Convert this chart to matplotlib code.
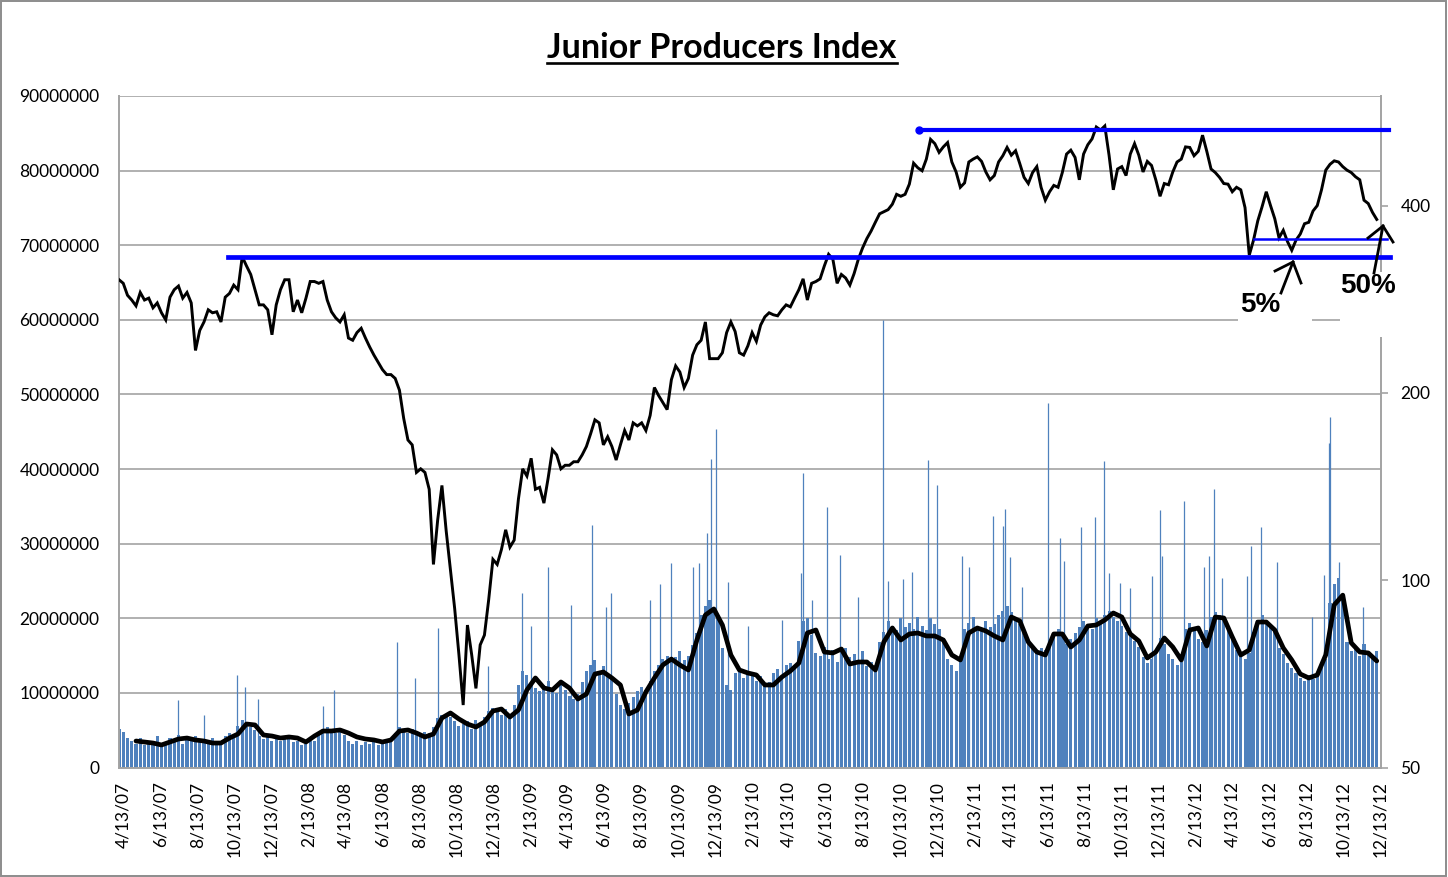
import matplotlib
matplotlib.use("Agg")
import matplotlib.pyplot as plt
import matplotlib.ticker as mticker
import numpy as np
import pandas as pd
from matplotlib.lines import Line2D
from matplotlib.patches import Rectangle

# ---------------- data ----------------
price_dates = pd.date_range("2007-04-06", periods=297, freq="7D")
price = [
    304, 300, 287, 282, 276, 290, 282, 284, 274, 279,
    269, 262, 285, 293, 297, 284, 290, 279, 234, 252,
    260, 272, 269, 270, 260, 285, 289, 298, 293, 331,
    320, 310, 293, 277, 277, 272, 248, 277, 293, 304,
    304, 270, 282, 269, 284, 302, 302, 300, 302, 282,
    270, 264, 260, 267, 245, 243, 250, 254, 245, 237,
    230, 224, 218, 214, 214, 211, 202, 182, 168, 165,
    149, 151, 149, 140, 106, 125, 142, 120, 104, 90,
    75.9, 63, 84.7, 75.9, 67, 78.7, 81.6, 93, 108, 106,
    112, 120.5, 113, 116, 135, 151, 147, 157, 140, 141,
    133, 146, 162, 159, 151, 153, 153, 155, 155, 159,
    164, 172, 181, 179, 165, 170, 164, 156, 165, 174,
    168, 179, 177, 179, 174, 184, 204, 198, 193, 188,
    210, 221, 216, 204, 211, 230, 239, 243, 260, 227,
    227, 227, 232, 250, 260, 251, 232, 230, 238, 250,
    242, 257, 265, 269, 267, 266, 272, 277, 275, 284,
    293, 305, 282, 300, 302, 305, 320, 334, 328, 300,
    310, 306, 298, 311, 328, 342, 354, 364, 376, 388,
    391, 394, 402, 417, 414, 417, 433, 468, 460, 455,
    475, 511, 503, 487, 497, 505, 470, 453, 428, 435,
    470, 475, 479, 471, 453, 440, 447, 470, 481, 496,
    482, 490, 467, 444, 434, 452, 462, 428, 408, 421,
    431, 428, 452, 484, 491, 478, 440, 484, 501, 512,
    535, 529, 537, 482, 424, 458, 462, 447, 484, 503,
    482, 453, 471, 464, 440, 414, 434, 432, 453, 470,
    475, 497, 496, 481, 489, 519, 489, 458, 452, 444,
    434, 433, 421, 428, 424, 397, 333, 352, 378, 398,
    421, 400, 381, 355, 365, 350, 339, 352, 360, 374,
    376, 392, 400, 424, 456, 466, 472, 470, 462, 456,
    452, 445, 440, 408, 403, 390, 380,
]

volume_dates = price_dates
volume_millions = [
    5.2, 4.8, 4.0, 3.6,
    3.2, 4.0, 3.0, 3.6, 3.3, 4.2, 3.0,
    3.4, 4.0, 3.5, 4.4, 3.2, 4.0, 3.6, 4.2, 3.4, 3.8,
    3.5, 4.0, 3.6, 3.4, 4.2, 4.6, 4.0,
    5.6, 6.3, 6.0, 5.4, 5.0,
    4.2, 3.8, 4.4, 3.6, 4.0, 3.5, 4.2, 3.8, 3.4, 3.6,
    3.0, 3.2, 3.5, 3.6, 4.4, 5.0,
    5.4, 5.0, 4.6, 5.2, 4.4,
    3.5, 3.2, 3.6, 3.0, 3.4, 3.2, 3.6, 3.0, 3.2, 3.4, 3.8,
    4.6, 5.4, 5.0, 4.6, 5.2, 4.4, 4.2, 4.8,
    4.6, 5.4, 6.6, 7.0, 7.2,
    6.8, 6.2, 5.6,
    5.8, 6.2, 5.2, 6.4, 5.6,
    6.8, 7.6, 8.0, 7.4, 7.0, 7.8, 6.6,
    8.4, 11.0, 13.0, 12.4,
    11.5, 10.6, 10.2, 11.0, 11.6, 10.4, 10.0, 11.2, 10.4,
    9.6, 9.2, 9.8,
    11.5, 13.0, 13.8, 14.4, 12.8, 13.6, 12.6, 12.0,
    9.8, 8.4, 7.8, 8.6, 9.4,
    10.2, 10.8, 10.4, 11.6, 13.0,
    13.8, 14.6, 15.0, 14.2, 14.8, 15.6, 14.4, 15.0, 16.4,
    18.0, 20.4, 21.6, 22.4, 21.0, 20.0,
    16.0, 11.0, 10.4,
    12.6, 13.4, 12.0, 13.0, 12.4, 11.6, 12.2, 11.0, 11.4, 12.6, 13.2, 12.0, 13.8, 14.0, 13.6,
    17.0, 19.6, 20.0, 17.8,
    15.4, 15.0, 16.2, 14.6, 15.8, 14.2, 15.6, 16.0, 14.8, 15.2, 14.4, 15.6, 13.6, 14.2, 13.8, 16.8,
    18.2, 19.6, 19.0, 18.4, 20.0, 18.8, 19.4, 18.6, 20.2, 19.0, 18.4, 20.0, 19.2, 18.6, 17.4,
    14.6, 13.8, 13.0, 14.4,
    18.6, 19.4, 20.2, 19.0, 18.4, 19.6, 18.8, 19.2, 20.4, 21.0, 21.6, 20.8, 20.0, 19.2, 17.6, 16.8,
    16.4, 15.6, 16.0, 15.8, 16.8, 17.6,
    18.6, 17.8, 16.6, 17.2, 18.0, 18.8, 19.6, 19.0, 18.6, 20.0, 19.4, 20.4, 21.0, 20.2, 19.6, 19.0, 18.2, 17.6, 17.0,
    16.2, 14.8, 14.0, 14.6, 15.8, 17.4, 16.6, 15.2,
    14.6, 13.8, 14.2,
    18.6, 19.4, 18.8, 17.2, 16.8, 18.4, 20.2, 20.8, 20.4, 19.6, 18.6, 17.8,
    15.8, 15.0, 14.6, 15.4,
    18.2, 19.8, 20.4, 19.6, 19.0, 18.4,
    16.0, 15.2, 14.0, 13.4, 12.6, 12.0, 11.6, 12.4, 11.8, 12.8, 13.6, 14.6,
    22.0, 24.6, 25.4, 23.0,
    16.8, 15.6, 16.2, 15.0, 16.6, 15.4, 14.8, 15.6,
]

spike_dates = [
    "2007-07-13", "2007-08-24", "2007-10-18", "2007-10-31", "2007-11-21",
    "2008-03-07", "2008-03-26", "2008-07-07", "2008-08-06", "2008-09-12",
    "2008-12-04", "2009-01-29", "2009-02-13", "2009-03-13", "2009-04-20",
    "2009-05-25", "2009-06-17", "2009-06-25", "2009-08-28", "2009-09-14",
    "2009-10-02", "2009-11-06", "2009-11-17", "2009-11-30", "2009-12-07",
    "2009-12-14", "2010-01-04", "2010-02-05", "2010-04-02", "2010-05-03",
    "2010-05-07", "2010-05-21", "2010-06-15", "2010-07-06", "2010-08-06",
    "2010-09-15", "2010-09-24", "2010-10-18", "2010-11-02", "2010-11-29",
    "2010-12-14", "2011-01-24", "2011-02-04", "2011-03-15", "2011-04-01",
    "2011-04-05", "2011-04-13", "2011-05-02", "2011-06-15", "2011-07-05",
    "2011-07-11", "2011-08-08", "2011-08-31", "2011-09-15", "2011-09-23",
    "2011-10-11", "2011-10-28", "2011-12-02", "2011-12-16", "2011-12-20",
    "2012-01-25", "2012-02-27", "2012-03-06", "2012-03-14", "2012-03-27",
    "2012-05-08", "2012-05-14", "2012-05-31", "2012-06-25", "2012-08-23",
    "2012-09-11", "2012-09-20", "2012-09-21", "2012-10-05", "2012-11-15",
]
spike_millions = [
    9.0, 7.0, 12.4, 10.8, 9.2,
    8.2, 10.4, 16.8, 12.0, 18.7,
    13.6, 23.4, 18.9, 26.9, 21.8,
    32.5, 21.5, 23.4, 22.5, 24.6,
    27.4, 26.9, 27.4, 31.4, 41.3,
    45.4, 24.9, 18.9, 19.8, 26.1,
    39.5, 22.5, 34.9, 28.5, 22.9,
    60.0, 25.0, 25.2, 26.2, 41.2,
    37.9, 28.4, 26.9, 33.7, 32.4,
    34.7, 28.2, 24.2, 48.8, 30.8,
    27.7, 32.3, 33.6, 41.1, 26.1,
    24.7, 24.1, 25.7, 34.5, 28.4,
    35.7, 26.9, 28.4, 37.3, 25.4,
    25.6, 29.7, 32.3, 27.6, 20.2,
    25.8, 43.5, 47.0, 27.6, 21.5,
]

ma_dates = pd.date_range("2007-05-04", periods=147, freq="14D")
ma_millions = [
    3.55, 3.42, 3.28, 3.02, 3.42, 3.82, 3.95, 3.69, 3.55, 3.28,
    3.28, 3.95, 4.49, 5.83, 5.70, 4.36, 4.22, 3.95, 4.09, 3.95,
    3.42, 4.22, 4.89, 4.89, 5.03, 4.62, 4.09, 3.82, 3.69, 3.42,
    3.69, 4.89, 5.03, 4.62, 4.09, 4.49, 6.64, 7.31, 6.50, 5.83,
    5.43, 6.10, 7.57, 7.84, 6.77, 7.71, 10.39, 12.0, 10.66, 10.39,
    11.46, 10.66, 9.18, 9.85, 12.53, 12.80, 12.0, 11.06, 7.17, 7.71,
    10.12, 12.0, 13.74, 14.54, 13.74, 13.07, 17.09, 20.44, 21.25, 19.1,
    15.08, 13.07, 12.67, 12.4, 11.06, 11.06, 12.13, 12.94, 14.0, 18.03,
    18.43, 15.48, 15.35, 15.88, 13.87, 14.14, 14.14, 13.07, 16.82, 18.70,
    17.09, 17.9, 18.03, 17.63, 17.63, 17.09, 15.08, 14.41, 18.03, 18.70,
    18.30, 17.63, 17.09, 20.17, 19.64, 16.82, 15.48, 15.08, 17.90, 17.90,
    16.15, 17.09, 18.97, 19.10, 19.77, 20.71, 20.17, 17.90, 16.96, 14.68,
    15.48, 17.36, 16.15, 14.41, 18.43, 18.70, 16.29, 20.17, 20.04, 17.49,
    15.08, 15.75, 19.5, 19.5, 18.43, 16.02, 14.41, 12.53, 12.0, 12.4,
    15.1, 21.8, 23.1, 16.7, 15.48, 15.35, 14.28,
]

x_tick_dates = [
    "2007-04-13", "2007-06-13", "2007-08-13", "2007-10-13", "2007-12-13",
    "2008-02-13", "2008-04-13", "2008-06-13", "2008-08-13", "2008-10-13", "2008-12-13",
    "2009-02-13", "2009-04-13", "2009-06-13", "2009-08-13", "2009-10-13", "2009-12-13",
    "2010-02-13", "2010-04-13", "2010-06-13", "2010-08-13", "2010-10-13", "2010-12-13",
    "2011-02-13", "2011-04-13", "2011-06-13", "2011-08-13", "2011-10-13", "2011-12-13",
    "2012-02-13", "2012-04-13", "2012-06-13", "2012-08-13", "2012-10-13", "2012-12-13",
]
x_tick_labels = [
    "4/13/07", "6/13/07", "8/13/07", "10/13/07", "12/13/07",
    "2/13/08", "4/13/08", "6/13/08", "8/13/08", "10/13/08", "12/13/08",
    "2/13/09", "4/13/09", "6/13/09", "8/13/09", "10/13/09", "12/13/09",
    "2/13/10", "4/13/10", "6/13/10", "8/13/10", "10/13/10", "12/13/10",
    "2/13/11", "4/13/11", "6/13/11", "8/13/11", "10/13/11", "12/13/11",
    "2/13/12", "4/13/12", "6/13/12", "8/13/12", "10/13/12", "12/13/12",
]
left_ticks = [0, 10000000, 20000000, 30000000, 40000000, 50000000,
              60000000, 70000000, 80000000, 90000000]
right_ticks = [50, 100, 200, 400]

# horizontal levels drawn on the price chart
resistance_level = 529
resistance_start, resistance_end = "2010-11-14", "2012-12-27"
support_level = 331
support_start, support_end = "2007-10-03", "2012-12-29"
support5_level = 354
support5_start, support5_end = "2012-05-19", "2012-12-24"

# ---------------- style ----------------
W, H, DPI = 1448, 877, 100
BLUE_BAR = "#4F81BD"
LINE_BLUE = "#0000FF"
GRID = "#A3A3A3"
FS = 12.5
plt.rcParams["font.family"] = ["Lato", "DejaVu Sans"]

fig = plt.figure(figsize=(W / DPI, H / DPI), dpi=DPI)
fig.patch.set_facecolor("white")

def fx(px):
    return px / W

def fy(py):
    return 1 - py / H

L, R, T, B = 119, 1381, 96, 767.5
ax = fig.add_axes([fx(L), fy(B), (R - L) / W, (B - T) / H])
ax2 = ax.twinx()

# volume
ax.bar(volume_dates, np.array(volume_millions) * 1e6, width=5.0,
       color=BLUE_BAR, linewidth=0, zorder=2)
ax.vlines(pd.to_datetime(spike_dates), 0, np.array(spike_millions) * 1e6,
          color=BLUE_BAR, lw=0.9, zorder=2)
ax.plot(ma_dates, np.array(ma_millions) * 1e6, color="black", lw=3.4,
        solid_joinstyle="round", solid_capstyle="round", zorder=3)

ax.set_ylim(0, 90e6)
ax.set_yticks(left_ticks)
ax.yaxis.set_major_formatter(mticker.FuncFormatter(lambda v, p: f"{int(round(v))}"))
ax.set_xlim(pd.Timestamp("2007-04-06"), pd.Timestamp("2012-12-14"))
ax.set_xticks(pd.to_datetime(x_tick_dates))
ax.set_xticklabels(x_tick_labels, rotation=90, ha="center", va="top")
ax.grid(axis="y", color=GRID, lw=1.2)
ax.grid(axis="x", visible=False)
ax.set_axisbelow(True)
ax.tick_params(axis="y", length=0, pad=14, labelsize=FS)
ax.tick_params(axis="x", length=0, pad=10, labelsize=FS)
for s in ["top", "right"]:
    ax.spines[s].set_visible(False)
for s in ["left", "bottom"]:
    ax.spines[s].set_color(GRID)
    ax.spines[s].set_linewidth(1.4)

# price (log axis)
ax2.plot(price_dates, price, color="black", lw=2.1, zorder=3,
         solid_joinstyle="miter")
ax2.set_yscale("log")
ax2.set_ylim(50, 600)
ax2.yaxis.set_major_locator(mticker.FixedLocator(right_ticks))
ax2.yaxis.set_minor_locator(mticker.NullLocator())
ax2.yaxis.set_major_formatter(mticker.FuncFormatter(lambda v, p: f"{int(round(v))}"))
ax2.tick_params(axis="y", length=5, width=1.2, color=GRID, pad=9, labelsize=FS)
for s in ["top", "left", "bottom"]:
    ax2.spines[s].set_visible(False)
ax2.spines["right"].set_color(GRID)
ax2.spines["right"].set_linewidth(1.4)
ax2.set_xlim(ax.get_xlim())

# level lines
ax2.plot(pd.to_datetime([resistance_start, resistance_end]), [resistance_level] * 2,
         color=LINE_BLUE, lw=3.0, clip_on=False, zorder=5)
ax2.plot(pd.to_datetime([resistance_start]), [resistance_level], "o",
         color=LINE_BLUE, ms=5, clip_on=False, zorder=5)
ax2.plot(pd.to_datetime([support_start, support_end]), [support_level] * 2,
         color=LINE_BLUE, lw=3.4, clip_on=False, zorder=5)
ax2.plot(pd.to_datetime([support5_start, support5_end]), [support5_level] * 2,
         color=LINE_BLUE, lw=1.8, clip_on=False, zorder=5)

# white label boxes
fig.add_artist(Rectangle((fx(1238), fy(334)), (1312 - 1238) / W, (334 - 288) / H,
                         transform=fig.transFigure, facecolor="white",
                         edgecolor="none", zorder=6))
fig.add_artist(Rectangle((fx(1340), fy(337)), (1410 - 1340) / W, (337 - 272) / H,
                         transform=fig.transFigure, facecolor="white",
                         edgecolor="none", zorder=6))

fig.text(fx(1260), fy(305), "5%", ha="center", va="center", fontsize=20,
         fontweight="bold", family=["Liberation Sans"], zorder=7)
fig.text(fx(1368), fy(286), "50%", ha="center", va="center", fontsize=20,
         fontweight="bold", family=["Liberation Sans"], zorder=7)

def seg(pts, lw=2.0):
    xs = [fx(p[0]) for p in pts]
    ys = [fy(p[1]) for p in pts]
    fig.add_artist(Line2D(xs, ys, transform=fig.transFigure, color="black",
                          lw=lw, solid_joinstyle="miter", zorder=8))

seg([(1281, 293), (1293, 262)])
seg([(1275, 271), (1293, 262), (1301, 283)])
seg([(1374, 273), (1383, 226)])
seg([(1368, 238), (1383, 226), (1393, 242)])

# title with underline
title = fig.text(fx(722), fy(58), "Junior Producers Index", ha="center",
                 va="baseline", fontsize=24.5, fontweight="bold", zorder=7)
fig.canvas.draw()
bb = title.get_window_extent(fig.canvas.get_renderer())
fig.add_artist(Line2D([bb.x0 / W, bb.x1 / W], [fy(63), fy(63)],
                      transform=fig.transFigure, color="black", lw=1.9))

# chart border
fig.add_artist(Rectangle((fx(1), fy(876)), (1446 - 1) / W, (876 - 1) / H,
                         transform=fig.transFigure, fill=False,
                         edgecolor="#8C8C8C", lw=1.4, zorder=0))

fig.savefig("out.png", dpi=DPI)
